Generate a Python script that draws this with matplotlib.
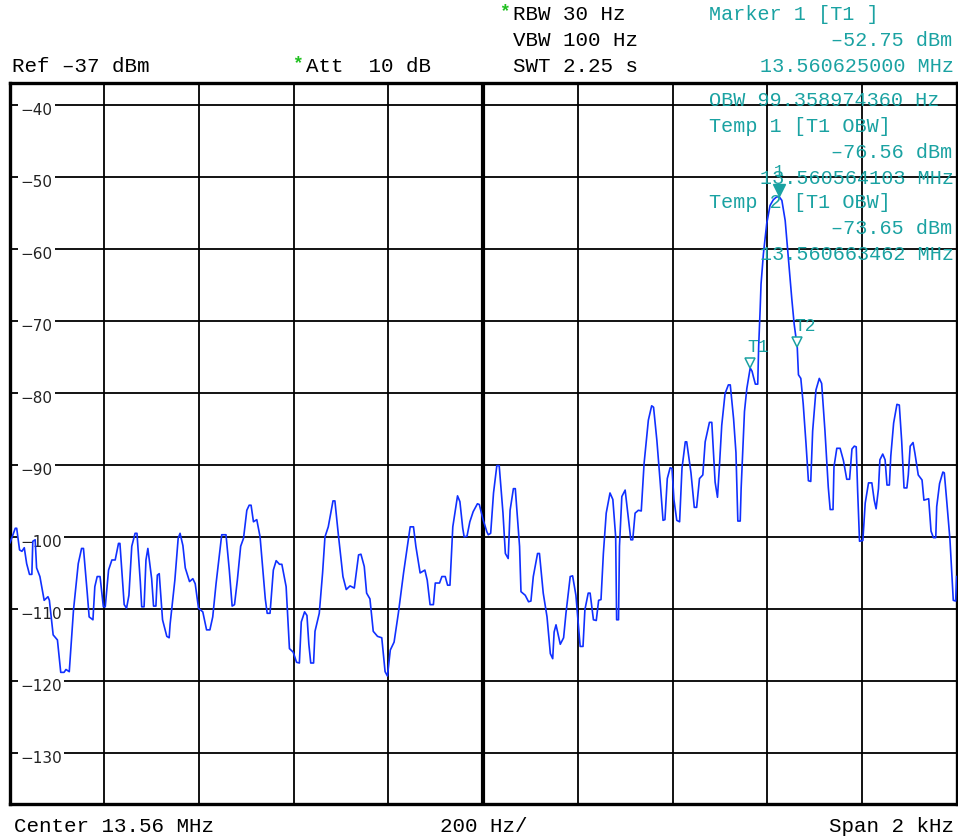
import matplotlib
matplotlib.use("Agg")
import matplotlib.pyplot as plt
from matplotlib.transforms import offset_copy

# spectrum trace: offset from centre frequency (Hz) and level (dBm)
freq_hz = [
    -999, -988, -985, -979, -974, -969, -964, -958, -953, -951, -946, -943, -936, -927, -919, -916,
    -908, -899, -892, -885, -881, -874, -865, -855, -848, -844, -836, -832, -824, -820, -815, -809,
    -802, -798, -791, -784, -777, -770, -767, -758, -753, -748, -742, -735, -731, -724, -721, -716,
    -712, -708, -700, -696, -691, -688, -684, -677, -668, -663, -661, -651, -644, -640, -634, -629,
    -620, -613, -608, -601, -592, -584, -577, -571, -564, -552, -543, -536, -530, -525, -519, -512,
    -506, -499, -494, -490, -485, -478, -471, -460, -456, -450, -443, -437, -430, -425, -416, -409,
    -401, -394, -388, -384, -377, -372, -368, -364, -358, -355, -346, -339, -334, -327, -317, -313,
    -306, -296, -289, -281, -272, -263, -258, -251, -246, -239, -232, -223, -214, -207, -202, -196,
    -188, -179, -168, -161, -154, -147, -142, -133, -123, -118, -112, -105, -101, -92, -87, -80,
    -75, -70, -64, -54, -49, -43, -40, -34, -28, -21, -12, -8, 0, 8, 11, 16,
    22, 29, 34, 42, 47, 53, 57, 64, 68, 77, 80, 89, 96, 101, 106, 115,
    119, 127, 135, 142, 147, 150, 154, 163, 170, 175, 184, 189, 196, 205, 211, 215,
    222, 226, 233, 239, 244, 249, 254, 260, 268, 274, 280, 282, 286, 288, 293, 300,
    307, 312, 316, 321, 328, 334, 340, 349, 356, 360, 367, 374, 380, 384, 389, 395,
    399, 403, 409, 415, 420, 427, 430, 439, 446, 451, 457, 464, 469, 478, 483, 490,
    495, 499, 504, 511, 518, 522, 529, 534, 538, 543, 545, 549, 552, 557, 564.103, 568,
    571, 575, 580, 582, 585, 587, 592, 599, 606, 613, 619, 625, 631, 638, 645, 652,
    657, 663.462, 666, 671, 676, 682, 687, 692, 696, 703, 710, 715, 722, 729, 733, 739,
    741, 747, 754, 761, 768, 774, 779, 784, 788, 791, 795, 802, 807, 814, 821, 826,
    830, 835, 838, 844, 849, 853, 858, 861, 867, 874, 879, 884, 889, 895, 898, 902,
    908, 912, 919, 927, 931, 941, 946, 951, 956, 958, 964, 971, 974, 979, 986, 993,
    998, 1000,
]
level_dbm = [
    -100.8, -98.8, -98.8, -101.8, -102.0, -101.5, -103.7, -105.2, -105.2, -100.6, -100.4, -104.3, -105.5, -108.8, -108.3, -108.8,
    -113.6, -114.3, -118.8, -118.8, -118.4, -118.7, -110.1, -103.7, -101.6, -101.6, -107.8, -111.1, -111.5, -106.9, -105.5, -105.5,
    -109.7, -109.7, -104.6, -103.2, -103.2, -100.9, -100.9, -109.4, -109.9, -108.1, -101.3, -99.5, -99.5, -106.2, -109.7, -109.7,
    -103.2, -101.6, -105.8, -109.6, -109.6, -105.3, -105.1, -111.5, -113.8, -114.0, -112.1, -106.0, -100.2, -99.5, -101.2, -104.3,
    -106.2, -105.8, -106.5, -109.9, -110.4, -112.9, -112.9, -111.1, -106.5, -99.7, -99.7, -104.6, -109.6, -109.4, -106.0, -101.3,
    -100.2, -96.3, -95.6, -95.6, -97.9, -97.6, -100.0, -108.6, -110.6, -110.6, -104.6, -103.3, -103.8, -103.8, -106.9, -115.5,
    -116.0, -117.4, -117.5, -111.8, -110.4, -110.9, -114.9, -117.5, -117.5, -113.1, -110.6, -105.0, -100.0, -98.6, -95.0, -95.0,
    -99.5, -105.5, -107.3, -106.8, -107.1, -102.5, -102.4, -104.1, -107.8, -108.6, -113.1, -113.8, -114.0, -118.7, -119.3, -115.7,
    -114.6, -110.6, -105.0, -101.8, -98.6, -98.6, -101.3, -105.0, -104.6, -106.0, -109.4, -109.4, -106.4, -106.4, -105.5, -105.5,
    -106.7, -106.7, -98.6, -94.3, -95.1, -98.8, -100.0, -99.9, -97.9, -96.5, -95.4, -95.5, -97.6, -99.3, -99.7, -99.5,
    -93.9, -90.1, -90.1, -96.7, -102.3, -103.0, -96.3, -93.3, -93.3, -101.3, -107.6, -108.1, -109.0, -108.9, -105.5, -102.3,
    -102.3, -107.8, -111.1, -116.2, -116.9, -113.2, -112.2, -114.9, -114.0, -110.6, -105.5, -105.4, -108.1, -115.2, -115.2, -110.1,
    -107.8, -107.8, -111.5, -111.6, -108.8, -108.7, -102.3, -96.7, -93.9, -94.8, -100.0, -111.5, -111.5, -101.3, -94.4, -93.5,
    -97.5, -100.4, -100.4, -96.7, -96.3, -96.4, -89.8, -83.8, -81.8, -82.0, -86.6, -92.4, -97.7, -97.6, -91.9, -90.4,
    -90.5, -94.8, -97.7, -97.9, -90.5, -86.8, -86.8, -91.1, -95.9, -95.9, -91.9, -91.4, -86.8, -84.1, -84.1, -92.4,
    -94.5, -90.3, -84.5, -80.1, -78.9, -78.9, -83.6, -88.3, -97.8, -97.8, -93.2, -87.2, -82.6, -79.4, -76.56, -77.0,
    -77.8, -78.8, -78.8, -73.5, -68.6, -64.9, -60.7, -56.5, -54.0, -53.2, -52.85, -52.75, -53.3, -56.1, -61.5, -67.0,
    -70.5, -73.65, -77.5, -78.0, -81.5, -87.1, -92.2, -92.3, -85.3, -79.6, -78.0, -78.7, -85.3, -93.1, -96.2, -96.2,
    -90.3, -87.7, -87.7, -89.4, -92.0, -92.0, -87.8, -87.4, -87.5, -93.6, -100.6, -100.5, -95.3, -92.5, -92.5, -94.9,
    -96.1, -93.3, -89.3, -88.5, -89.3, -92.8, -92.8, -88.8, -84.2, -81.6, -81.7, -86.7, -93.2, -93.2, -91.4, -87.4,
    -86.9, -88.4, -91.4, -92.1, -94.9, -94.7, -99.2, -100.1, -100.1, -95.8, -92.6, -91.0, -91.1, -94.9, -100.4, -108.8,
    -108.9, -105.5,
]

center_mhz = 13.56
span_hz = 2000
ref_level = -37
grid_levels = [-40, -50, -60, -70, -80, -90, -100, -110, -120, -130]
grid_freqs = [-800, -600, -400, -200, 0, 200, 400, 600, 800]

# marker 1 and the two OBW temp markers: (Hz offset, dBm)
m1_freq, m1_level = 625.0, -52.75
t1_freq, t1_level = 564.103, -76.56
t2_freq, t2_level = 663.462, -73.65
obw_hz = 99.358974360

teal = "#1aa2a2"
blue = "#1030ff"
mono = "Liberation Mono"

W, H = 958, 840
fig = plt.figure(figsize=(W / 100, H / 100), dpi=100)
fig.patch.set_facecolor("white")


def px(x, y):
    return x / W, 1 - y / H


ax = fig.add_axes([9.6 / W, 1 - 803.5 / H, 947 / W, 720.5 / H])
ax.set_xlim(-span_hz / 2, span_hz / 2)
ax.set_ylim(ref_level - 100, ref_level)
ax.set_xticks([])
ax.set_yticks([])
for s in ax.spines.values():
    s.set_linewidth(2.4)
    s.set_color("black")

for f in grid_freqs:
    ax.axvline(f, color="black", lw=3.0 if f == 0 else 1.3, zorder=1)
for lv in grid_levels:
    ax.axhline(lv, color="black", lw=1.3, zorder=1)
    ax.text(-977, lv - 0.75, "\u2212%d" % abs(lv), ha="left", va="center",
            fontsize=11, family="DejaVu Sans", color="#222222", zorder=2,
            bbox=dict(facecolor="white", edgecolor="none", pad=1.5))

ax.plot(freq_hz, level_dbm, color=blue, lw=1.2, zorder=3, solid_joinstyle="round")

# marker symbols with their tips on the trace
tip_big = offset_copy(ax.transData, fig=fig, x=0, y=4.5, units="points")
tip_small = offset_copy(ax.transData, fig=fig, x=0, y=3.6, units="points")
ax.plot([m1_freq], [m1_level], marker="v", ms=9, color=teal, mec=teal,
        transform=tip_big, zorder=5)
ax.plot([t1_freq, t2_freq], [t1_level, t2_level], marker="v", ms=7.2, ls="none",
        mfc="white", mec=teal, mew=1.1, transform=tip_small, zorder=5)
ax.annotate("1", (m1_freq, m1_level), xytext=(0, 18), textcoords="offset points",
            ha="center", va="center", fontsize=12, family=mono, color=teal, zorder=6)
for name, f, lv in [("T1", t1_freq, t1_level), ("T2", t2_freq, t2_level)]:
    ax.annotate(name, (f, lv), xytext=(6, 15), textcoords="offset points",
                ha="center", va="center", fontsize=13, family=mono, color=teal, zorder=6)

# instrument settings
fs = 15
fig.text(*px(12, 66), "Ref \u201337 dBm", fontsize=fs, family=mono, va="center")
fig.text(*px(292, 64), "*", fontsize=13, family=mono, va="center", color="#20c020",
         fontweight="bold")
fig.text(*px(306, 66), "Att  10 dB", fontsize=fs, family=mono, va="center")
fig.text(*px(499, 12), "*", fontsize=13, family=mono, va="center", color="#20c020",
         fontweight="bold")
fig.text(*px(513, 14), "RBW 30 Hz", fontsize=fs, family=mono, va="center")
fig.text(*px(513, 40), "VBW 100 Hz", fontsize=fs, family=mono, va="center")
fig.text(*px(513, 66), "SWT 2.25 s", fontsize=fs, family=mono, va="center")

# marker readouts
ft = 14.5


def freq_label(f):
    return "%.9f MHz" % (center_mhz + f / 1e6)


def level_label(lv):
    return ("%.2f dBm" % lv).replace("-", "\u2013")


readout = [
    (709, 14, "Marker 1 [T1 ]"),
    (831, 40, level_label(m1_level)),
    (760, 66, freq_label(m1_freq)),
    (709, 101, "OBW %.9f Hz" % obw_hz),
    (709, 126, "Temp 1 [T1 OBW]"),
    (831, 152, level_label(t1_level)),
    (760, 178, freq_label(t1_freq)),
    (709, 203, "Temp 2 [T1 OBW]"),
    (831, 229, level_label(t2_level)),
    (760, 255, freq_label(t2_freq)),
]
for x, y, s in readout:
    fig.text(*px(x, y), s, fontsize=ft, family=mono, va="center", color=teal, zorder=10)

# frequency axis annotation
fig.text(*px(14, 827), "Center %.2f MHz" % center_mhz, fontsize=fs, family=mono, va="center")
fig.text(*px(484, 827), "%d Hz/" % (span_hz // 10), fontsize=fs, family=mono,
         va="center", ha="center")
fig.text(*px(954, 827), "Span %d kHz" % (span_hz // 1000), fontsize=fs, family=mono,
         va="center", ha="right")

fig.savefig("out.png", dpi=100, facecolor="white")
